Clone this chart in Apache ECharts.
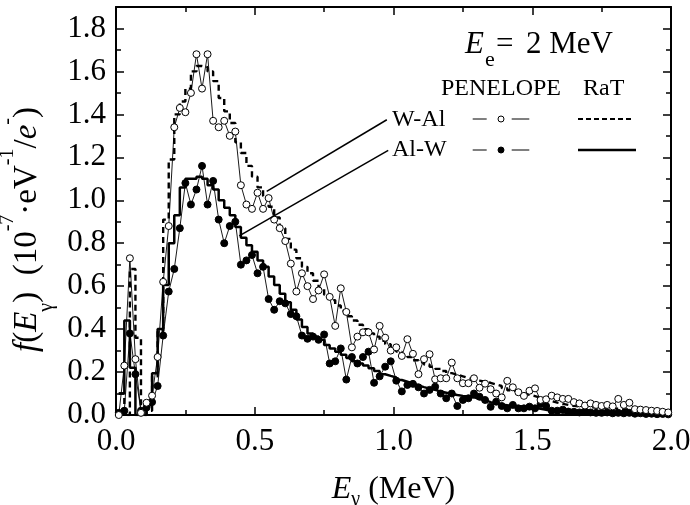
<!DOCTYPE html>
<html><head><meta charset="utf-8">
<script src="https://cdn.jsdelivr.net/npm/echarts@6/dist/echarts.min.js"></script>
<style>html,body{margin:0;padding:0;background:#fff}#c{width:690px;height:505px}</style>
</head><body><div id="c"></div>
<script>
// Energy grid (MeV): PENELOPE bin centres, also RaT histogram bin left edges
const energyMeV = [
 0.01,0.03,0.05,0.07,0.09,0.11,0.13,0.15,0.17,0.19,
 0.21,0.23,0.25,0.27,0.29,0.31,0.33,0.35,0.37,0.39,
 0.41,0.43,0.45,0.47,0.49,0.51,0.53,0.55,0.57,0.59,
 0.61,0.63,0.65,0.67,0.69,0.71,0.73,0.75,0.77,0.79,
 0.81,0.83,0.85,0.87,0.89,0.91,0.93,0.95,0.97,0.99,
 1.01,1.03,1.05,1.07,1.09,1.11,1.13,1.15,1.17,1.19,
 1.21,1.23,1.25,1.27,1.29,1.31,1.33,1.35,1.37,1.39,
 1.41,1.43,1.45,1.47,1.49,1.51,1.53,1.55,1.57,1.59,
 1.61,1.63,1.65,1.67,1.69,1.71,1.73,1.75,1.77,1.79,
 1.81,1.83,1.85,1.87,1.89,1.91,1.93,1.95,1.97,1.99];

const penelopeWAl = [
 0.0,0.23,0.73,0.26,0.01,0.057,0.09,0.27,0.62,0.88,
 1.34,1.43,1.41,1.50,1.68,1.52,1.68,1.37,1.34,1.37,
 1.30,1.32,1.07,0.98,0.96,1.035,0.96,1.01,0.91,0.87,
 0.81,0.705,0.575,0.66,0.60,0.54,0.58,0.655,0.55,0.415,
 0.59,0.48,0.315,0.365,0.385,0.385,0.305,0.415,0.36,0.30,
 0.315,0.275,0.353,0.285,0.19,0.26,0.283,0.166,0.171,0.171,
 0.244,0.171,0.148,0.148,0.171,0.127,0.146,0.12,0.10,0.082,
 0.159,0.129,0.106,0.089,0.113,0.124,0.07,0.073,0.09,0.082,
 0.075,0.075,0.06,0.054,0.044,0.054,0.047,0.042,0.047,0.04,
 0.075,0.047,0.057,0.027,0.025,0.023,0.02,0.019,0.015,0.012];

const penelopeAlW = [
 0.01,0.02,0.38,0.19,0.02,0.035,0.06,0.135,0.37,0.575,
 0.68,0.87,1.08,0.98,1.05,1.16,0.98,1.09,0.91,0.80,
 0.88,0.90,0.70,0.72,0.745,0.66,0.69,0.54,0.49,0.53,
 0.52,0.47,0.46,0.37,0.355,0.365,0.35,0.375,0.24,0.25,
 0.31,0.165,0.27,0.24,0.27,0.295,0.15,0.18,0.225,0.25,
 0.16,0.11,0.14,0.145,0.129,0.10,0.117,0.132,0.10,0.078,
 0.10,0.042,0.07,0.078,0.10,0.085,0.07,0.038,0.062,0.042,
 0.031,0.047,0.031,0.031,0.039,0.031,0.051,0.042,0.02,0.02,
 0.025,0.016,0.015,0.012,0.016,0.012,0.01,0.01,0.012,0.008,
 0.01,0.008,0.01,0.006,0.008,0.005,0.006,0.004,0.005,0.003];

const ratWAl = [
 0.10,0.0,0.68,0.36,0.0,0.02,0.18,0.39,0.91,1.19,
 1.40,1.46,1.52,1.60,1.625,1.62,1.60,1.555,1.476,1.414,
 1.36,1.27,1.22,1.16,1.11,1.06,1.02,0.97,0.92,0.87,
 0.82,0.77,0.73,0.69,0.66,0.625,0.59,0.56,0.535,0.51,
 0.485,0.46,0.44,0.42,0.40,0.38,0.365,0.345,0.33,0.31,
 0.295,0.28,0.27,0.255,0.245,0.235,0.225,0.215,0.205,0.195,
 0.188,0.18,0.172,0.165,0.16,0.155,0.15,0.142,0.135,0.125,
 0.115,0.107,0.10,0.094,0.088,0.08,0.072,0.065,0.058,0.052,
 0.047,0.043,0.04,0.038,0.036,0.035,0.033,0.032,0.031,0.029,
 0.027,0.025,0.022,0.02,0.018,0.016,0.015,0.013,0.012,0.01];

const ratAlW = [
 0.10,0.44,0.22,0.0,0.0,0.045,0.195,0.40,0.605,0.80,
 0.93,1.06,1.10,1.10,1.11,1.10,1.07,1.05,1.00,0.965,
 0.93,0.875,0.825,0.79,0.76,0.72,0.69,0.645,0.605,0.565,
 0.525,0.49,0.445,0.41,0.38,0.365,0.35,0.326,0.31,0.295,
 0.28,0.265,0.25,0.24,0.23,0.218,0.205,0.19,0.182,0.175,
 0.163,0.155,0.147,0.138,0.13,0.123,0.117,0.11,0.104,0.098,
 0.093,0.089,0.086,0.082,0.076,0.069,0.06,0.053,0.048,0.045,
 0.043,0.041,0.04,0.038,0.034,0.029,0.024,0.019,0.015,0.012,
 0.01,0.009,0.008,0.007,0.007,0.006,0.006,0.005,0.005,0.004,
 0.004,0.004,0.003,0.003,0.003,0.002,0.002,0.002,0.002,0.001];

// Label pointer lines (data coordinates): W-Al and Al-W
const pointerLines = [
 [[0.543, 1.041], [0.976, 1.375]],
 [[0.444, 0.834], [0.981, 1.232]]
];

const FONT = '"Liberation Serif", "Times New Roman", serif';
const pair = (xs, ys) => xs.map((x, i) => [x, ys[i]]);
const fmt1 = v => v.toFixed(1);

function xAxisDef(pos, labels, extra) {
  return Object.assign({
    type: 'value', min: 0, max: 2, interval: 0.5, position: pos,
    axisLine: { show: true, onZero: false, lineStyle: { color: '#000', width: 2 } },
    axisTick: { show: true, inside: true, length: 8, lineStyle: { color: '#000', width: 1.5 } },
    minorTick: { show: true, splitNumber: 2, length: 5, lineStyle: { color: '#000', width: 1.5 } },
    splitLine: { show: false }, minorSplitLine: { show: false },
    axisLabel: { show: labels, margin: 11, color: '#000', fontFamily: FONT, fontSize: 31, formatter: fmt1 }
  }, extra || {});
}
function yAxisDef(pos, major, labels, extra) {
  return Object.assign({
    type: 'value', min: 0, max: 1.9, interval: major ? 0.2 : 0.1, position: pos,
    axisLine: { show: major, onZero: false, lineStyle: { color: '#000', width: 2 } },
    axisTick: { show: true, inside: true, length: major ? 8 : 5, lineStyle: { color: '#000', width: 1.5 } },
    splitLine: { show: false },
    axisLabel: { show: labels, margin: 10, color: '#000', fontFamily: FONT, fontSize: 31, formatter: fmt1, showMaxLabel: false }
  }, extra || {});
}

const base = { fontFamily: FONT, color: '#000' };
const yNameRich = {
  n: Object.assign({ fontSize: 33, lineHeight: 59 }, base),
  i: Object.assign({ fontSize: 33, lineHeight: 59, fontStyle: 'italic' }, base),
  sub: Object.assign({ fontSize: 20, lineHeight: 36, verticalAlign: 'bottom' }, base),
  sup: Object.assign({ fontSize: 20, lineHeight: 20, verticalAlign: 'top' }, base),
  pad: Object.assign({ fontSize: 33, lineHeight: 59, width: 37 }, base)
};
const xNameRich = {
  n: Object.assign({ fontSize: 32, lineHeight: 40 }, base),
  i: Object.assign({ fontSize: 32, lineHeight: 40, fontStyle: 'italic' }, base),
  sub: Object.assign({ fontSize: 20, lineHeight: 18, verticalAlign: 'bottom' }, base)
};

function txt(text, x, y, size, italic) {
  const font = (italic ? 'italic ' : '') + size + 'px ' + FONT;
  return { type: 'text', silent: true, z: 10,
    style: { text: text, x: x, y: y, font: font, fill: '#000',
      align: 'left', verticalAlign: 'middle', textAlign: 'left', textVerticalAlign: 'middle' } };
}
function seg(x1, y1, x2, y2, w, dash) {
  return { type: 'line', silent: true, z: 10,
    shape: { x1: x1, y1: y1, x2: x2, y2: y2 },
    style: { stroke: '#000', lineWidth: w, lineDash: dash || null } };
}
function dot(cx, cy, filled) {
  return { type: 'circle', silent: true, z: 11, shape: { cx: cx, cy: cy, r: 3 },
    style: { fill: filled ? '#000' : '#fff', stroke: '#000', lineWidth: 1 } };
}

const chart = echarts.init(document.getElementById('c'), null, { renderer: 'canvas' });
chart.setOption({
  animation: false,
  backgroundColor: '#fff',
  grid: { left: 116, right: 19, top: 7, bottom: 90, containLabel: false, outerBoundsMode: 'none' },
  xAxis: [
    xAxisDef('bottom', true, {
      name: '{i|E}{sub|γ}{n| (MeV)}', nameLocation: 'middle', nameGap: 55,
      nameTextStyle: { rich: xNameRich }
    }),
    xAxisDef('top', false)
  ],
  yAxis: [
    yAxisDef('left', true, true, {
      name: '{i|f}{n|(}{i|E}{sub|γ}{n|)  (10}{sup|-7}{n|·eV}{sup|-1}{n|/}{i|e}{sup|-}{n|)}{pad| }',
      nameLocation: 'middle', nameRotate: 90, nameGap: 52,
      nameTextStyle: { rich: yNameRich }
    }),
    yAxisDef('left', false, false),
    yAxisDef('right', true, false),
    yAxisDef('right', false, false)
  ],
  series: [
    { name: 'RaT W-Al', type: 'line', step: 'end', xAxisIndex: 0, yAxisIndex: 0,
      data: pair(energyMeV, ratWAl), symbol: 'none', silent: true, z: 2,
      lineStyle: { color: '#000', width: 2.4, type: [6, 4] } },
    { name: 'RaT Al-W', type: 'line', step: 'end', xAxisIndex: 0, yAxisIndex: 0,
      data: pair(energyMeV, ratAlW), symbol: 'none', silent: true, z: 2,
      lineStyle: { color: '#000', width: 2.5 } },
    { name: 'PENELOPE W-Al', type: 'line', xAxisIndex: 0, yAxisIndex: 0,
      data: pair(energyMeV, penelopeWAl), symbol: 'circle', symbolSize: 7, showAllSymbol: true,
      silent: true, z: 4,
      itemStyle: { color: '#fff', borderColor: '#000', borderWidth: 1 },
      lineStyle: { color: '#000', width: 0.9 },
      markLine: { silent: true, symbol: ['none', 'none'], label: { show: false },
        lineStyle: { color: '#000', width: 1.5, type: 'solid' },
        data: pointerLines.map(p => [{ coord: p[0] }, { coord: p[1] }]) } },
    { name: 'PENELOPE Al-W', type: 'line', xAxisIndex: 0, yAxisIndex: 0,
      data: pair(energyMeV, penelopeAlW), symbol: 'circle', symbolSize: 7, showAllSymbol: true,
      silent: true, z: 3,
      itemStyle: { color: '#000', borderColor: '#000', borderWidth: 1 },
      lineStyle: { color: '#000', width: 0.9 } }
  ],
  graphic: [
    txt('E', 465, 44.5, 31, true),
    txt('e', 485, 60.5, 22, false),
    txt('=', 496, 44.5, 31, false),
    txt('2 MeV', 526, 44.5, 31, false),
    txt('PENELOPE', 441, 88.7, 24, false),
    txt('RaT', 583, 88.7, 24, false),
    txt('W-Al', 392, 119.7, 24, false),
    txt('Al-W', 392, 149.7, 24, false),
    seg(472.7, 119, 486.7, 119, 1),
    seg(511.7, 119, 529.3, 119, 1),
    dot(501, 119, false),
    seg(472.7, 150, 486.7, 150, 1),
    seg(511.7, 150, 529.3, 150, 1),
    dot(501, 150, true),
    seg(578, 119, 634, 119, 2.2, [5, 3]),
    seg(578, 150, 636, 150, 2.5)
  ]
});
</script>
</body></html>
